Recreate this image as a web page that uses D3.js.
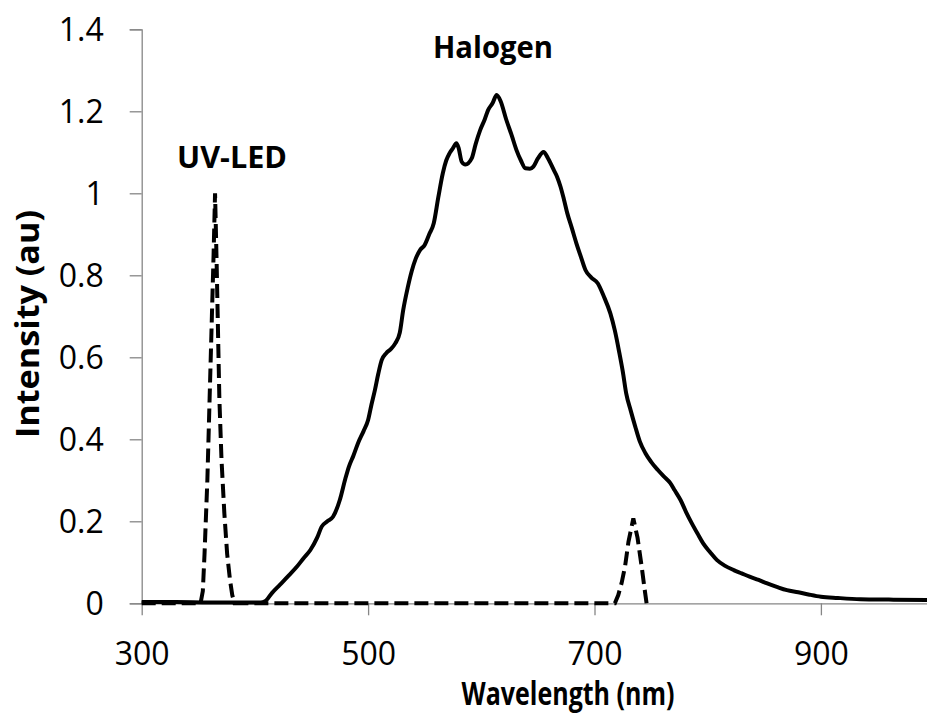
<!DOCTYPE html>
<html>
<head>
<meta charset="utf-8">
<script src="https://cdn.jsdelivr.net/npm/d3@7"></script>
<style>
    body { margin: 0; background: #fff; }
    svg { display: block; }
</style>
</head>
<body>
<div id="chart"></div>
<script>
// wavelength (nm) / intensity (au) pairs
const halogenWavelength = [300, 330, 360, 390, 405, 409, 415, 422, 430, 437, 443, 449, 455, 459, 464, 469, 475, 480, 483, 487, 491, 496, 500, 503, 506, 509, 512, 516, 520, 524, 528, 531, 535, 538.5, 542, 546, 550, 554, 558, 562, 566, 569, 572, 575, 578, 580, 582.7, 586, 591.5, 595, 599, 603, 606, 610, 613.6, 617, 622, 627, 631, 635, 639, 643, 646, 650, 655, 659, 664, 667, 670, 673, 676, 680, 684, 688, 692, 697, 703, 708, 714, 718, 722, 725, 728, 732, 736, 740, 745, 750, 756, 761, 767, 771, 776, 781, 786, 791, 796, 802, 808, 815, 823, 830, 837, 845, 852, 861, 870, 880, 890, 900, 915, 935, 960, 1000];
const halogenIntensity = [0.003, 0.003, 0.002, 0.002, 0.002, 0.005, 0.025, 0.045, 0.068, 0.089, 0.11, 0.13, 0.16, 0.187, 0.2, 0.211, 0.252, 0.305, 0.333, 0.36, 0.39, 0.42, 0.447, 0.485, 0.52, 0.56, 0.593, 0.61, 0.62, 0.634, 0.66, 0.715, 0.77, 0.81, 0.84, 0.862, 0.874, 0.9, 0.927, 0.99, 1.049, 1.08, 1.098, 1.11, 1.122, 1.11, 1.077, 1.07, 1.085, 1.12, 1.154, 1.18, 1.203, 1.22, 1.24, 1.225, 1.18, 1.14, 1.106, 1.08, 1.061, 1.06, 1.065, 1.085, 1.101, 1.085, 1.057, 1.04, 1.016, 0.985, 0.951, 0.915, 0.878, 0.845, 0.813, 0.795, 0.78, 0.75, 0.707, 0.665, 0.61, 0.565, 0.512, 0.47, 0.431, 0.395, 0.366, 0.345, 0.325, 0.31, 0.293, 0.275, 0.252, 0.222, 0.195, 0.17, 0.146, 0.125, 0.106, 0.092, 0.081, 0.073, 0.065, 0.057, 0.049, 0.04, 0.032, 0.027, 0.021, 0.016, 0.013, 0.01, 0.009, 0.008];

const uvWavelength = [300, 352, 354, 355.5, 358, 360, 362, 363.5, 364.8, 366.2, 367.5, 368.6, 370.5, 373, 375.5, 378, 380, 382, 718, 721, 724, 727, 730, 734.3, 738, 741.7, 744, 746];
const uvIntensity = [0, 0, 0.03, 0.12, 0.3, 0.5, 0.7, 0.85, 1.0, 0.83, 0.65, 0.5, 0.35, 0.22, 0.12, 0.057, 0.02, 0, 0, 0.02, 0.05, 0.09, 0.15, 0.207, 0.16, 0.089, 0.04, 0];

const xTicks = [300, 500, 700, 900];
const yTicks = [0, 0.2, 0.4, 0.6, 0.8, 1, 1.2, 1.4];

const width = 927;
const height = 727;
const axisColor = '#868686';
const font = '"Open Sans", "Noto Sans", sans-serif';

let svg = d3.select('#chart')
    .append('svg')
    .attr('width', width)
    .attr('height', height);

let x = d3.scaleLinear().domain([300, 1000]).range([141.7, 934.1]);
let y = d3.scaleLinear().domain([0, 1.4]).range([603.3, 29.3]);

// axes
let xAxis = svg.append('g')
    .attr('transform', `translate(0,${y(0)})`)
    .call(d3.axisBottom(x).tickValues(xTicks).tickSize(12).tickFormat(d3.format('d')));
xAxis.select('.domain').attr('d', `M${x(300)},0.5H${width}`);
xAxis.selectAll('text')
    .attr('y', 62).attr('dy', null)
    .style('font-family', font).style('font-size', '32px').attr('fill', '#000');

let yAxis = svg.append('g')
    .attr('transform', `translate(${x(300)},0)`)
    .call(d3.axisLeft(y).tickValues(yTicks).tickSize(12).tickFormat(d => d3.format('~g')(d)));
yAxis.selectAll('text')
    .attr('x', -38).attr('dy', '0.36em')
    .style('font-family', font).style('font-size', '32px').attr('fill', '#000');

svg.selectAll('.domain, .tick line')
    .attr('stroke', axisColor)
    .attr('stroke-width', 1.3);

// spectra
let line = d3.line()
    .x(d => x(d[0]))
    .y(d => y(d[1]));

svg.append('path')
    .datum(halogenWavelength.map((w, i) => [w, halogenIntensity[i]]))
    .attr('d', line.curve(d3.curveMonotoneX))
    .attr('fill', 'none')
    .attr('stroke', '#000')
    .attr('stroke-width', 4)
    .attr('stroke-linejoin', 'round');

svg.append('path')
    .datum(uvWavelength.map((w, i) => [w, uvIntensity[i]]))
    .attr('d', line.curve(d3.curveLinear))
    .attr('fill', 'none')
    .attr('stroke', '#000')
    .attr('stroke-width', 4)
    .attr('stroke-dasharray', '14,6');

// labels, squeezed to the width of the narrow original face
let label = (text, px, py, size, len, rotate) => svg.append('text')
    .attr('transform', `translate(${px},${py})` + (rotate ? ' rotate(-90)' : ''))
    .attr('text-anchor', 'middle')
    .attr('textLength', len)
    .attr('lengthAdjust', 'spacingAndGlyphs')
    .style('font-family', font)
    .style('font-weight', 'bold')
    .style('font-size', size + 'px')
    .text(text);

label('Halogen', 493, 58, 31, 120);
label('UV-LED', 232, 168, 31, 110);
label('Wavelength (nm)', 568, 705, 32, 213);
label('Intensity (au)', 39, 324, 33, 228, true);
</script>
</body>
</html>
